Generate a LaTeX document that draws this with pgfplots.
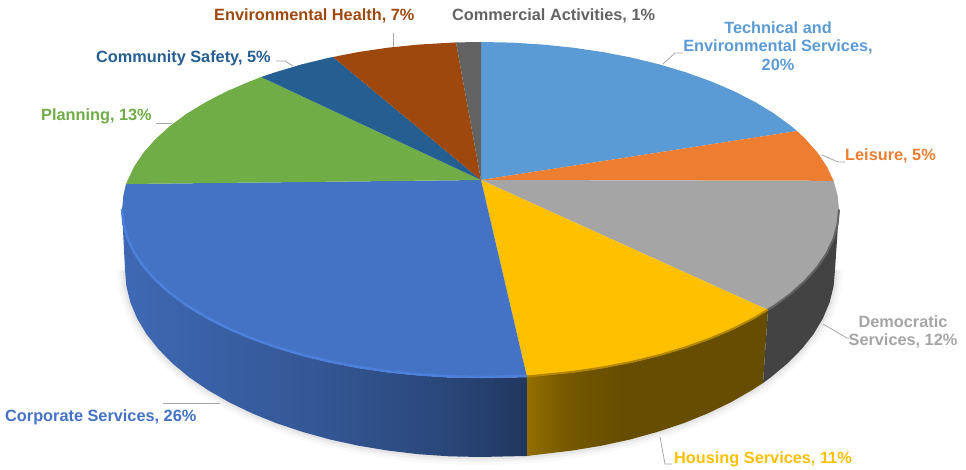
\documentclass[border=0pt]{standalone}
\usepackage{pgfplots}
\pgfplotsset{compat=1.18}
\usepackage{fontspec}
\setmainfont{Liberation Sans}

\definecolor{ctech}{HTML}{5B9BD5}
\definecolor{cleis}{HTML}{ED7D31}
\definecolor{cdemo}{HTML}{A5A5A5}
\definecolor{chous}{HTML}{FFC000}
\definecolor{ccorp}{HTML}{4472C4}
\definecolor{cplan}{HTML}{70AD47}
\definecolor{ccomm}{HTML}{255E91}
\definecolor{cenvh}{HTML}{9E480E}
\definecolor{ccact}{HTML}{636363}
\definecolor{cside}{HTML}{434343}
\definecolor{crim}{HTML}{4C80DA}

\pgfdeclarehorizontalshading{corpside}{100bp}{color(0bp)=(ccorp!92!black);color(25bp)=(ccorp!92!black);color(50bp)=(ccorp!75!black);color(65bp)=(ccorp!62!black);color(75bp)=(ccorp!48!black);color(100bp)=(ccorp!48!black)}
\pgfdeclarehorizontalshading{houseside}{100bp}{color(0bp)=(chous!58!black);color(25bp)=(chous!58!black);color(33bp)=(chous!46!black);color(45bp)=(chous!40!black);color(100bp)=(chous!40!black)}

\tikzset{lab/.style={font=\fontsize{16.3}{18.5}\selectfont\bfseries, inner sep=0pt}}

% outline of the pie's foot, right to left
\pgfplotstableread{
x y
835 270
833.6 286.3
829.6 302.5
822.9 318.4
813.6 334
801.7 349
787.4 363.5
770.8 377.3
751.9 390.2
731 402.2
708.2 413.2
683.6 423.2
657.5 431.9
630 439.5
601.4 445.7
571.9 450.6
541.6 454.2
511 456.3
480 457
449 456.3
418.4 454.2
388.1 450.6
358.6 445.7
330 439.5
302.5 431.9
276.4 423.2
251.8 413.2
229 402.2
208.1 390.2
189.2 377.3
172.6 363.5
158.3 349
146.4 334
137.1 318.4
130.4 302.5
126.4 286.3
125 270
}\footarc

% front edge of the top face
\pgfplotstableread{
x y
122 210
123.4 224.6
127.4 239.2
134.2 253.5
143.6 267.5
155.6 281
170 294
186.8 306.4
205.9 318
227 328.8
250.1 338.7
274.9 347.6
301.2 355.5
329 362.3
357.9 367.9
387.7 372.3
418.2 375.4
449.3 377.4
480.5 378
511.7 377.4
527 377
}\corpedge
\pgfplotstableread{
x y
527 377
542.8 375.4
573.3 372.3
603.1 367.9
632 362.3
659.8 355.5
686.1 347.6
710.9 338.7
734 328.8
755.1 318
768 310
}\housedge
\pgfplotstableread{
x y
768 310
774.2 306.4
791 294
805.4 281
817.4 267.5
826.8 253.5
833.6 239.2
837.6 224.6
839 210
}\demoedge

\begin{document}
\begin{tikzpicture}
\begin{axis}[
    scale only axis,
    width=966pt, height=469pt,
    xmin=0, xmax=966, ymin=0, ymax=469,
    y dir=reverse,
    hide axis,
    clip=false,
]
% keeps the page at the full frame
\addplot[draw=none] coordinates {(0,0) (966,469)};

% soft shadow
\addplot[draw=gray, opacity=0.05, line width=16pt, line join=round, line cap=butt] table {\footarc};
\addplot[draw=gray, opacity=0.07, line width=10pt, line join=round, line cap=butt] table {\footarc};
\addplot[draw=gray, opacity=0.10, line width=5pt, line join=round, line cap=butt] table {\footarc};

% sides
\addplot[draw=none, shade, shading=corpside] coordinates {
(122,210) (123.4,224.6) (127.4,239.2) (134.2,253.5) (143.6,267.5) (155.6,281) (170,294) (186.8,306.4) (205.9,318) (227,328.8) (250.1,338.7) (274.9,347.6) (301.2,355.5) (329,362.3) (357.9,367.9) (387.7,372.3) (418.2,375.4) (449.3,377.4) (480.5,378) (511.7,377.4) (527,377)
(527,456) (511,456.3) (480,457) (449,456.3) (418.4,454.2) (388.1,450.6) (358.6,445.7) (330,439.5) (302.5,431.9) (276.4,423.2) (251.8,413.2) (229,402.2) (208.1,390.2) (189.2,377.3) (172.6,363.5) (158.3,349) (146.4,334) (137.1,318.4) (130.4,302.5) (126.4,286.3) (125,270) };
\addplot[draw=none, shade, shading=houseside] coordinates {
(527,377) (542.8,375.4) (573.3,372.3) (603.1,367.9) (632,362.3) (659.8,355.5) (686.1,347.6) (710.9,338.7) (734,328.8) (755.1,318) (768,310)
(763,383) (751.9,390.2) (731,402.2) (708.2,413.2) (683.6,423.2) (657.5,431.9) (630,439.5) (601.4,445.7) (571.9,450.6) (541.6,454.2) (527,456) };
\addplot[draw=none, fill=cside] coordinates {
(768,310) (774.2,306.4) (791,294) (805.4,281) (817.4,267.5) (826.8,253.5) (833.6,239.2) (837.6,224.6) (839,210)
(835,270) (833.6,286.3) (829.6,302.5) (822.9,318.4) (813.6,334) (801.7,349) (787.4,363.5) (770.8,377.3) (763,383) };

% top face
\addplot[draw=none, fill=ctech] coordinates {(481,180) (481,42) (511.7,42.6) (542.8,44.6) (573.3,47.7) (603.1,52.1) (632,57.7) (659.8,64.5) (686.1,72.4) (710.9,81.3) (734,91.2) (755.1,102) (774.2,113.6) (791,126) (797,131)};
\addplot[draw=none, fill=cleis] coordinates {(481,180) (797,131) (805.4,139) (817.4,152.5) (826.8,166.5) (833.6,180.8)};
\addplot[draw=none, fill=cdemo] coordinates {(481,180) (833.6,180.8) (837.6,195.4) (839,210) (837.6,224.6) (833.6,239.2) (826.8,253.5) (817.4,267.5) (805.4,281) (791,294) (774.2,306.4) (768,310)};
\addplot[draw=none, fill=chous] coordinates {(481,180) (768,310) (755.1,318) (734,328.8) (710.9,338.7) (686.1,347.6) (659.8,355.5) (632,362.3) (603.1,367.9) (573.3,372.3) (542.8,375.4) (527,377)};
\addplot[draw=none, fill=ccorp] coordinates {(481,180) (527,377) (511.7,377.4) (480.5,378) (449.3,377.4) (418.2,375.4) (387.7,372.3) (357.9,367.9) (329,362.3) (301.2,355.5) (274.9,347.6) (250.1,338.7) (227,328.8) (205.9,318) (186.8,306.4) (170,294) (155.6,281) (143.6,267.5) (134.2,253.5) (127.4,239.2) (123.4,224.6) (122,210) (123.4,195.4) (126,184)};
\addplot[draw=none, fill=cplan] coordinates {(481,180) (126,184) (127.4,180.8) (134.2,166.5) (143.6,152.5) (155.6,139) (170,126) (186.8,113.6) (205.9,102) (227,91.2) (250.1,81.3) (261,77)};
\addplot[draw=none, fill=ccomm] coordinates {(481,180) (261,77) (274.9,72.4) (301.2,64.5) (329,57.7) (333,57)};
\addplot[draw=none, fill=cenvh] coordinates {(481,180) (333,57) (357.9,52.1) (387.7,47.7) (418.2,44.6) (456,42.4)};
\addplot[draw=none, fill=ccact] coordinates {(481,180) (456,42.4) (481,42)};

% bevel on the front edge
\addplot[draw=crim, line width=2.5pt, yshift=1pt] table {\corpedge};
\addplot[draw=chous!70!black, line width=2pt, yshift=0.5pt] table {\housedge};
\addplot[draw=cdemo!60!black, line width=2pt, yshift=0.5pt] table {\demoedge};

% leader lines
\addplot[draw=gray!70, line width=0.8pt] coordinates {(663,64) (675,53) (683,53)};
\addplot[draw=gray!70, line width=0.8pt] coordinates {(822,155) (838,162) (845,162)};
\addplot[draw=gray!70, line width=0.8pt] coordinates {(823,324) (847,338) (849,338)};
\addplot[draw=gray!70, line width=0.8pt] coordinates {(660,437) (665,464) (672,464)};
\addplot[draw=gray!70, line width=0.8pt] coordinates {(220,403) (163,403)};
\addplot[draw=gray!70, line width=0.8pt] coordinates {(393,47) (393,33)};
\addplot[draw=gray!70, line width=0.8pt] coordinates {(293,66) (285,61) (276,61)};
\addplot[draw=gray!70, line width=0.8pt] coordinates {(172,123) (156,123)};

% labels
\node[lab, text=ctech, align=center] at (axis cs:778,46) {Technical and\\Environmental Services,\\20\%};
\node[lab, text=cleis, anchor=west] at (axis cs:845,156) {Leisure, 5\%};
\node[lab, text=cdemo, align=center] at (axis cs:903,332) {Democratic\\Services, 12\%};
\node[lab, text=chous, anchor=west] at (axis cs:674,459) {Housing Services, 11\%};
\node[lab, text=ccorp, anchor=west] at (axis cs:5,417) {Corporate Services, 26\%};
\node[lab, text=cplan, anchor=west] at (axis cs:41,116) {Planning, 13\%};
\node[lab, text=ccomm, anchor=west] at (axis cs:96,58) {Community Safety, 5\%};
\node[lab, text=cenvh, anchor=west] at (axis cs:214,16) {Environmental Health, 7\%};
\node[lab, text=ccact, anchor=west] at (axis cs:452,16) {Commercial Activities, 1\%};
\end{axis}
\end{tikzpicture}
\end{document}
